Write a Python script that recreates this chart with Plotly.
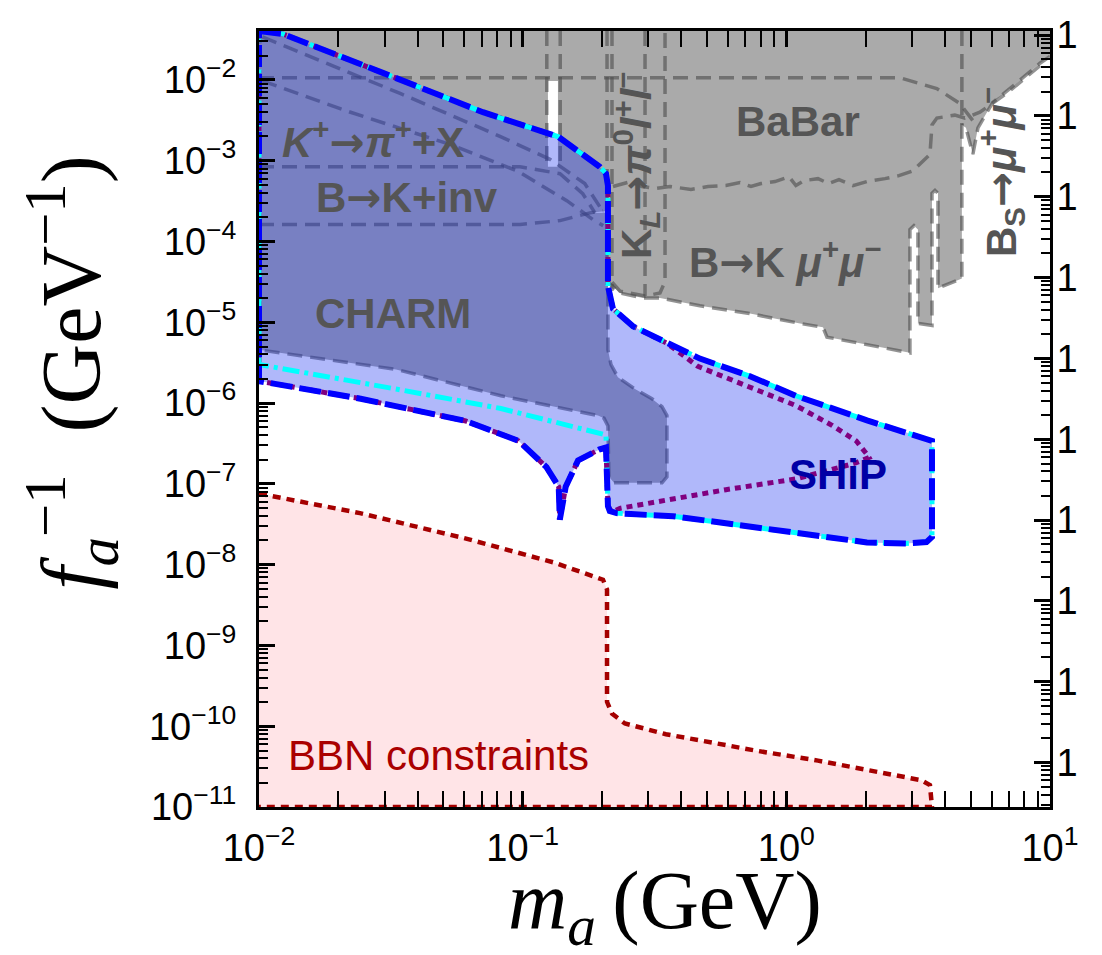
import numpy as np
import plotly.graph_objects as go

# ---------------- data (m_a in GeV, f_a^-1 in GeV^-1) ----------------
# union of the grey experimental exclusions (K->pi X, B->K inv, BaBar, K_L, B->K mumu, Bs->mumu)
gray_m = [0.0100, 10.0, 10.0, 9.16, 7.49, 6.07, 5.33, 5.10, 4.80, 4.632, 4.632, 4.171, 3.760, 3.760,
          3.663, 3.568, 3.568, 3.156, 3.156, 3.048, 2.943, 2.943, 2.697, 2.022, 1.426, 1.377, 1.127,
          0.728, 0.470, 0.3318, 0.2858, 0.2339, 0.2089, 0.2089, 0.180, 0.1385, 0.0977, 0.0100]
gray_f = [0.0403, 0.0403, 0.01955, 0.01607, 0.0092, 0.00527, 0.00255, 0.0012, 0.00255, 0.00277,
          3.49e-5, 3.03e-5, 2.64e-5, 3.94e-4, 4.29e-4, 3.94e-4, 9.15e-6, 9.67e-6, 1.41e-4, 1.57e-4,
          1.41e-4, 4.19e-6, 4.43e-6, 5.24e-6, 6.55e-6, 8.65e-6, 9.67e-6, 1.28e-5, 1.60e-5, 2.0e-5,
          2.0e-5, 2.3e-5, 3.21e-5, 2.39e-4, 2.26e-4, 1.81e-4, 1.62e-4, 1.62e-4]

# gap of K+ -> pi+ X around the pion mass
gap_m = [0.1247, 0.1361, 0.1361, 0.1247]
gap_f = [9.7e-3, 9.7e-3, 8.4e-4, 8.4e-4]

# CHARM
charm_m = [0.0100, 0.2106, 0.2106, 0.2162, 0.2297, 0.2667, 0.3093, 0.3376, 0.3525, 0.3525, 0.3376,
           0.2220, 0.2124, 0.2106, 0.2034, 0.1931, 0.0827, 0.0331, 0.0100]
charm_f = [2.26e-4, 2.26e-4, 4.56e-6, 3.0e-6, 2.09e-6, 1.49e-6, 1.13e-6, 9.0e-7, 7.0e-7, 1.22e-7,
           1.03e-7, 1.03e-7, 1.22e-7, 5.2e-7, 6.5e-7, 7.0e-7, 1.23e-6, 2.61e-6, 4.56e-6]

# boundary curves of individual grey constraints
top_m = [0.0100, 2.70, 3.72, 4.55, 5.19]
top_f = [1.06e-2, 1.06e-2, 7.8e-3, 5.1e-3, 2.9e-3]
kpi_up_m = [0.0103, 0.0343, 0.0820, 0.127, 0.172, 0.196]
kpi_up_f = [3.4e-2, 6.8e-3, 2.0e-3, 1.04e-3, 5.2e-4, 2.7e-4]
kpi_lo_m = [0.0103, 0.0221, 0.0530, 0.0951, 0.147, 0.185, 0.202]
kpi_lo_f = [9.7e-3, 4.0e-3, 1.59e-3, 7.5e-4, 3.2e-4, 1.86e-4, 1.57e-4]
binv_up_m = [0.0100, 0.0977, 0.1385, 0.169, 0.188]
binv_up_f = [8.4e-4, 8.4e-4, 6.9e-4, 3.9e-4, 2.26e-4]
binv_lo_m = [0.0100, 0.0977, 0.1385, 0.180, 0.202]
binv_lo_f = [1.62e-4, 1.62e-4, 1.81e-4, 2.26e-4, 2.39e-4]
kl_m = [0.2089, 0.2089, 0.2339, 0.2911, 0.3318, 0.3467, 0.3467]
kl_f = [0.0403, 3.7e-5, 2.43e-5, 2.11e-5, 2.3e-5, 3.2e-5, 0.0403]
babar_m = [0.2200, 0.2575, 0.2834, 0.3204, 0.3620, 0.4348, 0.5045, 0.590, 0.6668, 0.7345, 0.8017,
           0.9058, 1.023, 1.087, 1.166, 1.318, 1.449, 1.583, 1.789, 2.022, 2.366, 2.673, 3.022,
           3.213, 3.505, 3.568, 3.724, 4.357, 4.753, 5.42, 6.92, 9.40]
babar_f = [4.79e-4, 5.51e-4, 4.79e-4, 4.53e-4, 4.79e-4, 4.41e-4, 4.79e-4, 4.92e-4, 5.36e-4, 4.79e-4,
           5.21e-4, 5.51e-4, 6.33e-4, 4.92e-4, 5.66e-4, 5.99e-4, 5.21e-4, 5.82e-4, 4.92e-4, 5.51e-4,
           5.99e-4, 6.52e-4, 7.48e-4, 9.1e-4, 1.2e-3, 2.77e-3, 3.37e-3, 3.66e-3, 3.37e-3, 3.98e-3,
           6.97e-3, 1.607e-2]

# SHiP sensitivity contour (blue dashed)
ship_up_m = [0.0100, 0.0123, 0.0295, 0.0707, 0.136, 0.196, 0.207, 0.2106, 0.2106, 0.216, 0.220,
             0.262, 0.3525, 0.470, 0.728, 1.087, 2.022, 2.744, 3.568]
ship_up_f = [0.0403, 0.0371, 0.0122, 3.98e-3, 1.99e-3, 8.4e-4, 6.9e-4, 4.9e-4, 2.8e-5, 1.84e-5,
             1.47e-5, 8.9e-6, 5.5e-6, 3.55e-6, 2.15e-6, 1.23e-6, 6.1e-7, 4.5e-7, 3.4e-7]
ship_bot_m = [3.568, 3.40, 2.842, 2.022, 1.087, 0.590, 0.3715, 0.2575, 0.227, 0.214, 0.2106]
ship_bot_f = [2.2e-8, 1.9e-8, 1.83e-8, 1.88e-8, 2.48e-8, 3.28e-8, 3.98e-8, 4.22e-8, 4.34e-8, 4.6e-8, 5.3e-8]
ship_dip_m = [0.207, 0.1947, 0.1622, 0.1456, 0.1383, 0.1370, 0.1231, 0.0964, 0.0608, 0.0243, 0.0100]
ship_dip_f = [2.81e-7, 2.65e-7, 1.95e-7, 9.2e-8, 3.6e-8, 9.2e-8, 1.61e-7, 3.41e-7, 6.0e-7, 1.13e-6, 1.87e-6]
# SHiP variant (cyan dash-dot) lower-left edge
cyan_lo_m = [0.207, 0.0827, 0.0331, 0.0100]
cyan_lo_f = [4.03e-7, 8.55e-7, 1.49e-6, 3.0e-6]
# SHiP variant (purple dotted) inner right part
purp_m = [0.462, 0.710, 1.087, 1.49, 1.84, 2.022, 2.057, 1.82, 1.087, 0.590, 0.3715, 0.2339, 0.2181]
purp_f = [2.84e-6, 1.63e-6, 9.3e-7, 5.3e-7, 3.41e-7, 2.31e-7, 2.12e-7, 1.80e-7, 1.15e-7, 8.46e-8,
          6.58e-8, 4.98e-8, 4.46e-8]

# BBN constraints
bbn_m = [0.0100, 0.02415, 0.0610, 0.1303, 0.2017, 0.2089, 0.2089, 0.2181, 0.2443, 0.3495, 0.774,
         1.318, 3.238, 3.505, 3.568, 0.0100]
bbn_f = [7.57e-8, 4.34e-8, 2.10e-8, 1.07e-8, 6.5e-9, 4.92e-9, 2.0e-10, 1.43e-10, 1.08e-10, 7.96e-11,
         4.96e-11, 3.75e-11, 2.15e-11, 1.87e-11, 1.0e-11, 1.0e-11]

x_ticks = [0.01, 0.1, 1, 10]
x_ticktext = ["10<sup>\u22122</sup>", "10<sup>\u22121</sup>", "10<sup>0</sup>", "10<sup>1</sup>"]
y_exps = list(range(-11, -1))
right_ticktext = "1"

# ---------------- figure ----------------
GRAY = "rgb(170,170,170)"
DASHC = "rgba(75,75,75,0.6)"
fig = go.Figure()


def poly(m, f, color):
    fig.add_trace(go.Scatter(x=m, y=f, mode="lines", fill="toself", fillcolor=color,
                             line=dict(width=0, color=color), hoverinfo="skip"))


def dline(m, f, color=DASHC, width=3.5, dash="15px,8px"):
    fig.add_trace(go.Scatter(x=m, y=f, mode="lines", line=dict(color=color, width=width, dash=dash),
                             hoverinfo="skip"))


poly(gray_m, gray_f, GRAY)
poly(charm_m, charm_f, GRAY)
poly(gap_m, gap_f, "white")

# grey dashed boundaries
dline(top_m, top_f)
dline(kpi_up_m, kpi_up_f)
dline(kpi_lo_m, kpi_lo_f)
dline(binv_up_m, binv_up_f)
dline(binv_lo_m, binv_lo_f)
dline([gap_m[0] * 0.99, gap_m[0] * 0.99], [gray_f[0], gap_f[2]])
dline([gap_m[1] * 1.02, gap_m[1] * 1.02], [gray_f[0], gap_f[2]])
dline(kl_m, kl_f)
dline([ship_up_m[9] * 1.01, ship_up_m[9] * 1.01], [gray_f[0], kl_f[2]])
dline([kl_m[3], kl_m[3]], [gray_f[0], kl_f[3]])
dline(gray_m[2:34], gray_f[2:34])
dline([gray_m[9], gray_m[9]], [gray_f[0], gray_f[9]])
dline(babar_m, babar_f)
dline([charm_m[1]] + charm_m[2:], [2.4e-5] + charm_f[2:])

# BBN
poly(bbn_m, bbn_f, "rgba(255,0,30,0.105)")

# SHiP
ship_m = ship_up_m + ship_bot_m + ship_dip_m + [ship_up_m[0]]
ship_f = ship_up_f + ship_bot_f + ship_dip_f + [ship_up_f[0]]
poly(ship_m, ship_f, "rgba(23,47,240,0.34)")

purple_m = ship_up_m[:13] + purp_m + ship_bot_m[-1:] + ship_dip_m + [ship_up_m[0]]
purple_f = ship_up_f[:13] + purp_f + ship_bot_f[-1:] + ship_dip_f + [ship_up_f[0]]
dline(purple_m, purple_f, color="rgb(128,0,128)", width=5, dash="6px,5px")

cyan_m = ship_up_m + ship_bot_m + cyan_lo_m + [ship_up_m[0]]
cyan_f = ship_up_f + ship_bot_f + cyan_lo_f + [ship_up_f[0]]
dline(cyan_m, cyan_f, color="rgb(0,255,255)", width=5, dash="17px,5px,4px,5px")

dline(ship_m, ship_f, color="rgb(0,0,255)", width=6, dash="22px,7px")

dline(bbn_m, bbn_f, color="rgb(165,0,0)", width=4.5, dash="8px,6px")

# dummy (invisible) trace that attaches the right-hand axis
fig.add_trace(go.Scatter(x=[0.01], y=[1e-5], yaxis="y2", mode="markers",
                         marker=dict(opacity=0), hoverinfo="skip"))

x_minor = [k * 10.0 ** e for e in range(-2, 1) for k in range(2, 10)]
y_minor = [k * 10.0 ** e for e in range(-11, -1) for k in range(2, 10)]
y2_minor = [k * 10.0 ** e for e in range(-10, 0) for k in range(2, 10)]

axis_common = dict(type="log", showgrid=False, zeroline=False, showline=True, linewidth=3,
                   linecolor="black", ticks="inside", ticklen=16, tickwidth=2.5, tickcolor="black",
                   tickfont=dict(family="Liberation Sans", size=38, color="black"))

# the page body adds an 8px offset, margins are compensated for it
fig.update_layout(
    width=1102, height=955, showlegend=False,
    margin=dict(l=251, r=60, t=6, b=156),
    plot_bgcolor="white", paper_bgcolor="white",
    font=dict(family="Liberation Sans", color="black"),
    xaxis=dict(range=[-2, 1], tickvals=x_ticks, ticktext=x_ticktext, mirror="allticks",
               ticklabelstandoff=5,
               minor=dict(tickvals=x_minor, ticks="inside", ticklen=9, tickwidth=2, tickcolor="black",
                          showgrid=False),
               **axis_common),
    yaxis=dict(range=[-11, -1.395], tickvals=[10.0 ** e for e in y_exps],
               ticktext=["10<sup>\u2212%d</sup>" % (-e) for e in y_exps], mirror=True,
               ticklabelstandoff=12, ticklabeloverflow="allow",
               minor=dict(tickvals=y_minor, ticks="inside", ticklen=9, tickwidth=2, tickcolor="black",
                          showgrid=False),
               **axis_common),
    yaxis2=dict(overlaying="y", side="right", range=[-9.55, 0.05],
                tickvals=[10.0 ** -k for k in range(10)], ticktext=[right_ticktext] * 10,
                ticklabelstandoff=-4, ticklabeloverflow="allow",
                minor=dict(tickvals=y2_minor, ticks="inside", ticklen=9, tickwidth=2, tickcolor="black",
                           showgrid=False),
                **axis_common),
)

GT = "rgb(85,85,85)"
lab_font = dict(family="Liberation Sans", size=42, color=GT)
ARROW = '<span style="font-family:DejaVu Sans">\u2192</span>'


def ann(text, xl, yl, font=lab_font, angle=0, xref="x", yref="y"):
    fig.add_annotation(text=text, x=xl, y=yl, xref=xref, yref=yref, showarrow=False,
                       font=font, textangle=angle, xanchor="center", yanchor="middle")


ann("<b><i>K</i><sup>+</sup>" + ARROW + "<i>\u03c0</i><sup>+</sup>+X</b>", -1.568, -2.74)
ann("<b>B" + ARROW + "K+inv</b>", -1.439, -3.453)
ann("<b>CHARM</b>", -1.492, -4.893)
ann("<b>BaBar</b>", 0.044, -2.521)
ann("<b>B" + ARROW + "K <i>\u03bc</i><sup>+</sup><i>\u03bc</i><sup>\u2212</sup></b>", -0.005, -4.22)
ann("<b>K<sub><i>L</i></sub>" + ARROW + "<i>\u03c0</i><sup>0</sup><i>l</i><sup>+</sup><i>l</i><sup>\u2212</sup></b>",
    -0.57, -3.065, angle=-90)
ann("<b>B<sub>S</sub>" + ARROW + "<i>\u03bc</i><sup>+</sup><i>\u03bc</i><sup>\u2212</sup></b>", 0.815, -3.138, angle=-90)
ann("<b>SHiP</b>", 0.196, -6.879, font=dict(family="Liberation Sans", size=42, color="rgb(0,0,165)"))
ann("BBN constraints", -1.321, -10.366, font=dict(family="Liberation Sans", size=42, color="rgb(170,0,0)"))

# axis titles
ann("<i>m<sub>a</sub></i>\u2009(GeV)", 0.513, -0.128, xref="paper", yref="paper",
    font=dict(family="Liberation Serif", size=82, color="black"))
ann("<i>f<sub>a</sub></i><sup>\u22121</sup>  (GeV<sup>\u22121</sup>)", -0.236, 0.56, xref="paper",
    yref="paper", angle=-90, font=dict(family="Liberation Serif", size=84, color="black"))

fig.write_html("out.html")
